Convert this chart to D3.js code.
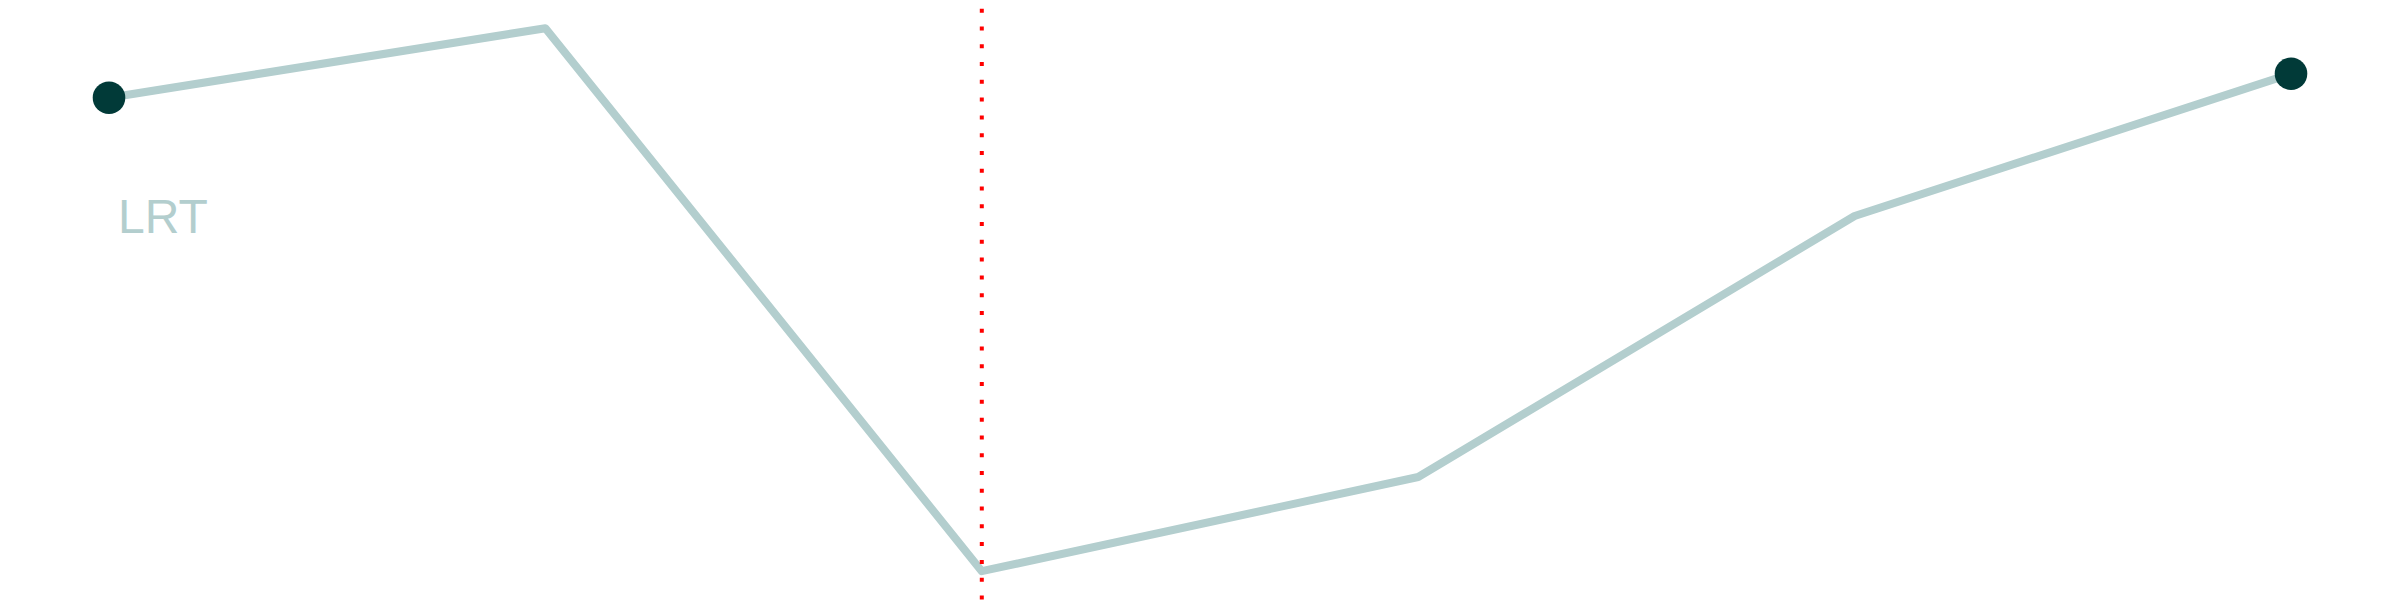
<!DOCTYPE html>
<html>
<head>
<meta charset="utf-8">
<script src="https://cdn.jsdelivr.net/npm/d3@7"></script>
<style>
  html, body { margin: 0; padding: 0; background: #fff; }
  svg { display: block; }
</style>
</head>
<body>
<svg id="chart"></svg>
<script>
// categories (six evenly spaced steps) and the single series
const steps = ["s1", "s2", "s3", "s4", "s5", "s6"];
const values = [83.7, 95.3, 4.8, 20.5, 64.0, 87.7];
const markerStep = "s3";
const seriesLabel = "LRT";

const width = 2400;
const height = 600;

const svg = d3.select("#chart")
  .attr("width", width)
  .attr("height", height)
  .attr("viewBox", [0, 0, width, height]);

// scales
const xScale = d3.scalePoint()
  .domain(steps)
  .range([109, 2291]);

const yScale = d3.scaleLinear()
  .domain([0, 100])
  .range([height, 0]);

const data = steps.map((s, i) => ({ step: s, value: values[i] }));

// line
const line = d3.line()
  .x(d => xScale(d.step))
  .y(d => yScale(d.value));

svg.append("path")
  .datum(data)
  .attr("fill", "none")
  .attr("stroke", "#b3cece")
  .attr("stroke-width", 8)
  .attr("stroke-linejoin", "round")
  .attr("d", line);

// red dotted marker
svg.append("line")
  .attr("x1", xScale(markerStep))
  .attr("x2", xScale(markerStep))
  .attr("y1", 8.7)
  .attr("y2", height)
  .attr("stroke", "#ff0000")
  .attr("stroke-width", 4)
  .attr("stroke-dasharray", "4 13.78");

// end dots
const ends = [data[0], data[data.length - 1]];
svg.append("g")
  .selectAll("circle")
  .data(ends)
  .enter()
  .append("circle")
  .attr("cx", d => xScale(d.step))
  .attr("cy", d => yScale(d.value))
  .attr("r", 16.3)
  .attr("fill", "#013a38");

// series label
svg.append("text")
  .attr("x", xScale(steps[0]) + 9)
  .attr("y", yScale(values[0]) + 135)
  .attr("font-family", "Liberation Sans, Arial, sans-serif")
  .attr("font-size", 48)
  .attr("fill", "#b3cece")
  .text(seriesLabel);
</script>
</body>
</html>
